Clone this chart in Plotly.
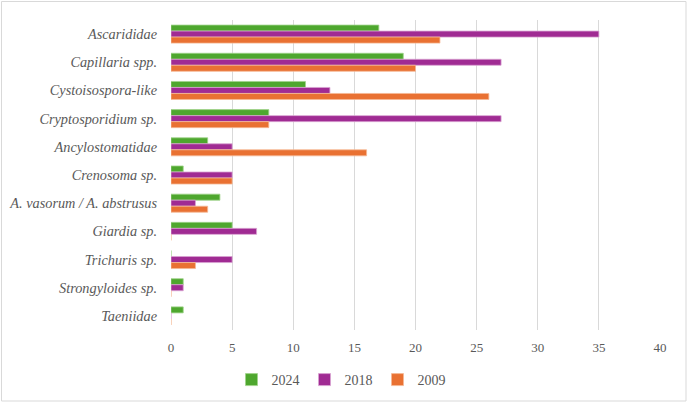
import plotly.graph_objects as go

categories = ["Ascarididae", "Capillaria spp.", "Cystoisospora-like", "Cryptosporidium sp.",
              "Ancylostomatidae", "Crenosoma sp.", "A. vasorum / A. abstrusus", "Giardia sp.",
              "Trichuris sp.", "Strongyloides sp.", "Taeniidae"]
v2024 = [17, 19, 11, 8, 3, 1, 4, 5, 0, 1, 1]
v2018 = [35, 27, 13, 27, 5, 5, 2, 7, 5, 1, 0]
v2009 = [22, 20, 26, 8, 16, 5, 3, 0, 2, 0, 0]
x_ticks = [0, 5, 10, 15, 20, 25, 30, 35, 40]

series = [("2024", v2024, "#4EA72E", "#9fd38a"),
          ("2018", v2018, "#A02B93", "#d9a3d2"),
          ("2009", v2009, "#E97132", "#f5b995")]

FONT = "Liberation Serif"

fig = go.Figure()
for name, vals, col, edge in series:
    fig.add_trace(go.Bar(
        y=[f"<i>{c}</i>" for c in categories],
        x=vals, name=name, orientation="h",
        marker=dict(color=col, line=dict(color=edge, width=0.8)),
    ))

W, H = 688, 403
L, R, T, B = 171, 28, 20, 73
pw, ph = W - L - R, H - T - B

def px2x(p):
    return (p - L) / pw

def py2y(p):
    return (H - B - p) / ph

fig.update_layout(
    width=W, height=H,
    margin=dict(l=L, r=R, t=T, b=B, autoexpand=False),
    paper_bgcolor="white", plot_bgcolor="white",
    barmode="group", bargap=0.36, bargroupgap=0,
    font=dict(family=FONT, color="#595959", size=13),
    xaxis=dict(range=[0, 40], tickvals=x_ticks, showgrid=True, gridcolor="#d9d9d9",
               gridwidth=1, zeroline=False, showline=False, ticks="", automargin=False,
               tickangle=0,
               tickfont=dict(family=FONT, size=13, color="#595959"), ticklabelstandoff=8),
    yaxis=dict(autorange="reversed", showgrid=False, zeroline=False, showline=False,
               ticks="", automargin=False,
               tickfont=dict(family=FONT, size=14.3, color="#595959"), ticklabelstandoff=13),
    legend=dict(orientation="h", xref="paper", x=px2x(341), xanchor="center",
                yref="paper", y=py2y(380), yanchor="middle",
                font=dict(family=FONT, size=14, color="#595959"), itemwidth=30,
                traceorder="normal"),
    shapes=[dict(type="rect", xref="paper", yref="paper",
                 x0=px2x(1.5), x1=px2x(686), y0=py2y(401), y1=py2y(1.5),
                 line=dict(color="#d9d9d9", width=1), layer="below")],
)

fig.write_html("out.html")
